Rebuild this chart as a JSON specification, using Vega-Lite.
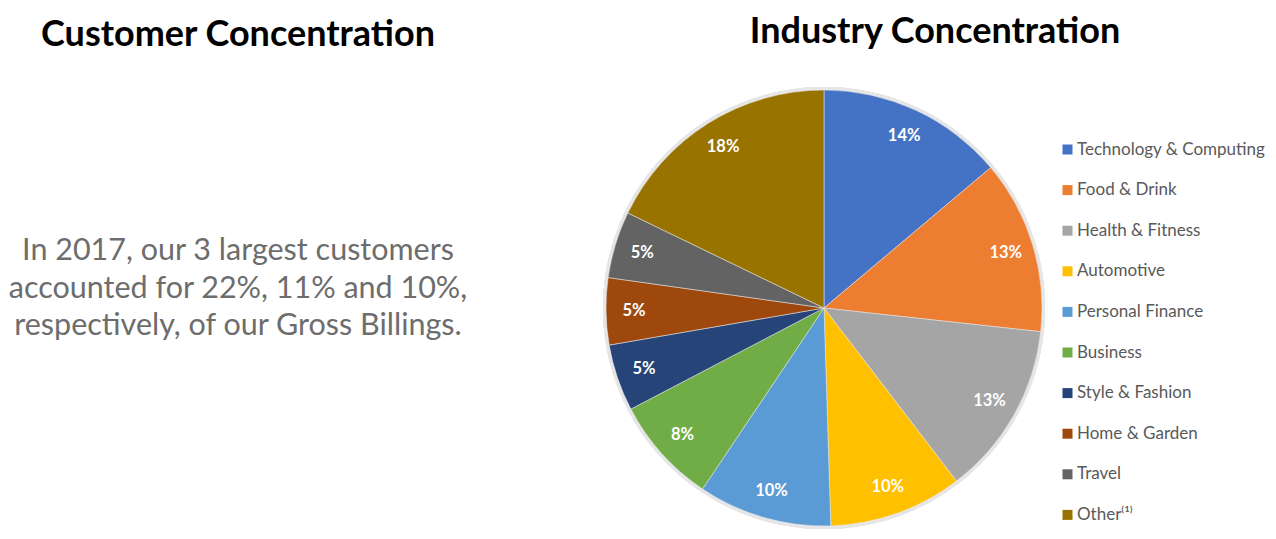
{
  "$schema": "https://vega.github.io/schema/vega-lite/v6.json",
  "padding": {"top": 14, "left": 0, "right": 0, "bottom": 0},
  "background": "white",
  "spacing": 127,
  "config": {
    "view": {"stroke": null},
    "font": "Lato",
    "title": {"fontSize": 36, "fontWeight": "bold", "color": "#000000", "font": "Lato", "offset": 36, "anchor": "middle"}
  },
  "hconcat": [
    {
      "width": 476,
      "height": 436,
      "title": {"text": "Customer Concentration"},
      "data": {"values": [{"line": "In 2017, our 3 largest customers|accounted for 22%, 11% and 10%,|respectively, of our Gross Billings."}]},
      "mark": {"type": "text", "fontSize": 30.5, "color": "#6d6d6d", "lineHeight": 37.5, "lineBreak": "|", "dy": -57, "font": "Lato"},
      "encoding": {"text": {"field": "line", "type": "nominal"}}
    },
    {
      "width": 436,
      "height": 436,
      "title": {"text": "Industry Concentration", "dx": 111},
      "data": {"values": [
        {"idx": 1, "industry": "Technology & Computing", "pct": 0.14},
        {"idx": 2, "industry": "Food & Drink", "pct": 0.13},
        {"idx": 3, "industry": "Health & Fitness", "pct": 0.13},
        {"idx": 4, "industry": "Automotive", "pct": 0.10},
        {"idx": 5, "industry": "Personal Finance", "pct": 0.10},
        {"idx": 6, "industry": "Business", "pct": 0.08},
        {"idx": 7, "industry": "Style & Fashion", "pct": 0.05},
        {"idx": 8, "industry": "Home & Garden", "pct": 0.05},
        {"idx": 9, "industry": "Travel", "pct": 0.05},
        {"idx": 10, "industry": "Other⁽¹⁾", "pct": 0.18}
      ]},
      "layer": [
        {
          "mark": {"type": "arc", "outerRadius": 221, "color": "#e6e6e6"},
          "encoding": {}
        },
        {
          "mark": {"type": "arc", "outerRadius": 218, "stroke": "#ececec", "strokeWidth": 0.5},
          "encoding": {
            "theta": {"field": "pct", "type": "quantitative", "stack": true},
            "order": {"field": "idx", "type": "quantitative"},
            "color": {
              "field": "industry",
              "type": "nominal",
              "sort": null,
              "scale": {
                "domain": ["Technology & Computing", "Food & Drink", "Health & Fitness", "Automotive", "Personal Finance", "Business", "Style & Fashion", "Home & Garden", "Travel", "Other⁽¹⁾"],
                "range": ["#4472C4", "#ED7D31", "#A5A5A5", "#FFC000", "#5B9BD5", "#70AD47", "#264478", "#9E480E", "#636363", "#997300"]
              },
              "legend": {
                "orient": "none",
                "legendX": 1059,
                "legendY": 51,
                "title": null,
                "symbolType": "square",
                "symbolSize": 100,
                "symbolStrokeWidth": 0,
                "labelFontSize": 17,
                "labelFont": "Lato",
                "labelColor": "#595959",
                "labelLimit": 400,
                "rowPadding": 22.6,
                "labelOffset": 1
              }
            }
          }
        },
        {
          "mark": {"type": "text", "radius": 190, "fill": "white", "fontWeight": "bold", "fontSize": 16.5, "font": "Lato"},
          "encoding": {
            "theta": {"field": "pct", "type": "quantitative", "stack": true},
            "order": {"field": "idx", "type": "quantitative"},
            "text": {"field": "pct", "type": "quantitative", "format": ".0%"}
          }
        }
      ]
    }
  ]
}
